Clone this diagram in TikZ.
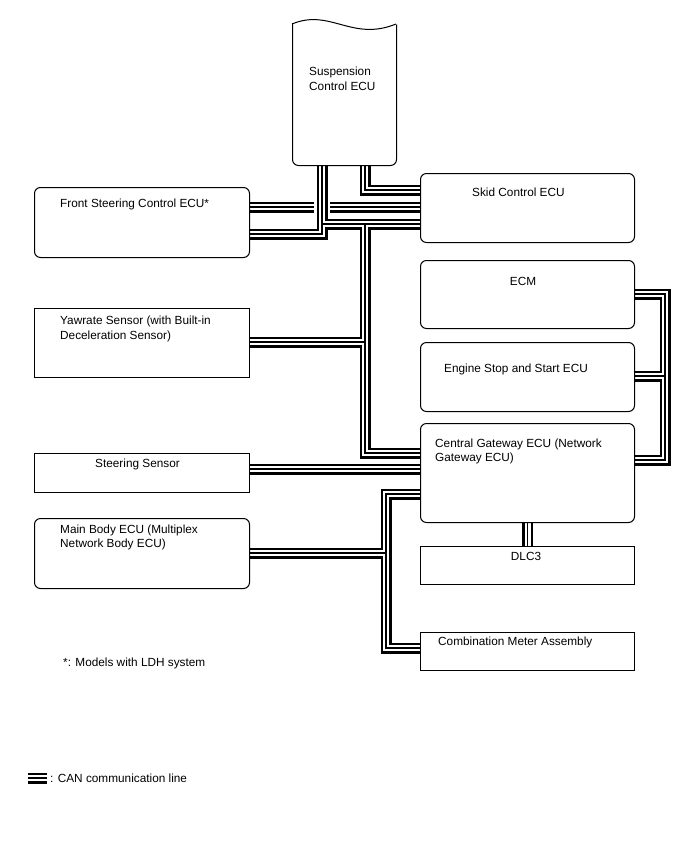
\documentclass[tikz,border=0pt]{standalone}
\usepackage{fontspec}
\setmainfont{Liberation Sans}
\pgfdeclarelayer{background}
\pgfsetlayers{background,main}
\tikzset{
  ecu/.style={draw, line width=1pt, fill=white, rounded corners=6pt, anchor=north west, inner sep=0pt},
  part/.style={draw, line width=1pt, fill=white, anchor=north west, inner sep=0pt},
  lbl/.style={anchor=base west, inner sep=0pt, align=left},
  can/.style={line width=1.3pt, line join=miter, preaction={draw, line width=11pt}, preaction={draw, white, line width=6pt}},
  canhalo/.style={preaction={draw, white, line width=16pt}}
}
\begin{document}
\begin{tikzpicture}[x=1pt, y=-1pt, font=\fontsize{11.8}{14.2}\selectfont]
    \useasboundingbox (0,0) rectangle (688,852);

    % Suspension Control ECU (wavy top)
    \node[ecu, minimum width=104pt, minimum height=153pt] (susp) at (292,12) {};
    \fill[white] (290,8) -- (290,24) .. controls (330,8) and (352,42) .. (398,24) -- (398,8) -- cycle;
    \draw[line width=1pt] (292,24) .. controls (330,8) and (352,42) .. (396,24);
    \node[lbl] (susp-t) at (309,90) {Suspension\\Control ECU};

    % left column
    \node[ecu, minimum width=215pt, minimum height=70pt] (fsc) at (34,187) {};
    \node[lbl] (fsc-t) at (60,207) {Front Steering Control ECU*};
    \node[part, minimum width=215pt, minimum height=69pt] (yaw) at (34,308) {};
    \node[lbl] (yaw-t) at (60,339) {Yawrate Sensor (with Built-in\\Deceleration Sensor)};
    \node[part, minimum width=215pt, minimum height=39pt] (ssr) at (34,453) {};
    \node[lbl] (ssr-t) at (95,467) {Steering Sensor};
    \node[ecu, minimum width=215pt, minimum height=70pt] (mbe) at (34,518) {};
    \node[lbl] (mbe-t) at (60,547.5) {Main Body ECU (Multiplex\\Network Body ECU)};

    % right column
    \node[ecu, minimum width=214pt, minimum height=69pt] (skid) at (420,173) {};
    \node[lbl] (skid-t) at (472,196) {Skid Control ECU};
    \node[ecu, minimum width=214pt, minimum height=68pt] (ecm) at (420,260) {};
    \node[anchor=base, inner sep=0pt] (ecm-t) at (523,285) {ECM};
    \node[ecu, minimum width=214pt, minimum height=69pt] (ess) at (420,342) {};
    \node[lbl] (ess-t) at (444,372) {Engine Stop and Start ECU};
    \node[ecu, minimum width=214pt, minimum height=99pt] (cgw) at (420,423) {};
    \node[lbl] (cgw-t) at (435,461.7) {Central Gateway ECU (Network\\Gateway ECU)};
    \node[part, minimum width=214pt, minimum height=38pt] (dlc) at (420,546) {};
    \node[anchor=base, inner sep=0pt] (dlc-t) at (526,560) {DLC3};
    \node[part, minimum width=214pt, minimum height=38pt] (cma) at (420,632) {};
    \node[lbl] (cma-t) at (438,645) {Combination Meter Assembly};

    % notes
    \node[lbl] (note) at (63,666) {*: Models with LDH system};
    \coordinate (lg1) at (28,778);
    \coordinate (lg2) at (47,778);
    \node[lbl] (legend) at (50,782) {: CAN communication line};

    % CAN lines
    \coordinate (fu) at (300,207);
    \coordinate (sa) at (322,234);
    \coordinate (sab) at (322,224);
    \coordinate (sb) at (365,190);
    \coordinate (bt) at (365,224);
    \coordinate (bb) at (365,453);
    \coordinate (by) at (365,342);
    \coordinate (st) at (300,469);
    \coordinate (re) at (665,294);
    \coordinate (rs) at (665,376);
    \coordinate (rg) at (665,460);
    \coordinate (mt) at (386,494);
    \coordinate (mm) at (386,553);
    \coordinate (mb) at (386,648);
    \begin{pgfonlayer}{background}
        \draw[can] (fsc.east |- fu) -- (skid.west |- fu);
        \draw[canhalo, can] (susp.south -| sa) -- (sa) -- (fsc.east |- sa)
            (sab) -- (skid.west |- sab)
            (susp.south -| sb) -- (sb) -- (skid.west |- sb)
            (bt) -- (bb) -- (cgw.west |- bb)
            (by) -- (yaw.east |- by);
        \draw[can] (ssr.east |- st) -- (cgw.west |- st);
        \draw[can] (ecm.east |- re) -- (re) -- (rg) -- (cgw.east |- rg)
            (rs) -- (ess.east |- rs);
        \draw[can] (cgw.south) -- (dlc.north);
        \draw[can] (cgw.west |- mt) -- (mt) -- (mb) -- (cma.west |- mb)
            (mm) -- (mbe.east |- mm);
    \end{pgfonlayer}
    \draw[can] (lg1) -- (lg2);
\end{tikzpicture}
\end{document}
